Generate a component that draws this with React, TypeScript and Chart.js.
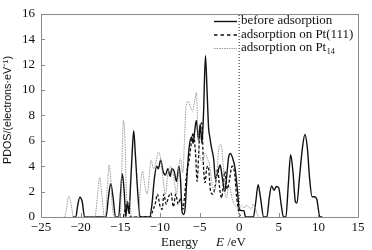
import React, { useEffect, useRef } from "react";
import { Chart, registerables } from "chart.js";

Chart.register(...registerables);

// ---- data ----
const beforeE = [-21.0, -20.6, -20.4, -20.1, -19.8, -19.5, -17.0, -16.8, -16.5, -16.2, -15.9, -15.6, -15.2, -14.95, -14.75, -14.5, -14.3, -14.1, -13.9, -13.7, -13.5, -13.3, -13.1, -12.8, -12.5, -11.3, -11.0, -10.7, -10.4, -10.2, -9.9, -9.6, -9.3, -9.0, -8.7, -8.5, -8.2, -7.9, -7.6, -7.4, -7.2, -7.0, -6.8, -6.6, -6.3, -6.0, -5.8, -5.6, -5.4, -5.1, -4.9, -4.7, -4.5, -4.25, -4.05, -3.85, -3.7, -3.5, -3.2, -3.0, -2.7, -2.4, -2.1, -1.8, -1.6, -1.3, -1.1, -0.8, -0.5, -0.2, 0.0, 0.3, 0.6, 0.8, 1.8, 2.1, 2.4, 2.7, 3.1, 3.5, 3.8, 4.1, 4.4, 4.7, 5.0, 5.3, 5.6, 5.9, 6.2, 6.5, 6.8, 7.1, 7.3, 7.6, 8.0, 8.3, 8.6, 8.9, 9.2, 9.5, 9.8, 10.2, 10.5];
const beforePDOS = [0, 0, 0.8, 1.55, 1.2, 0, 0, 0, 1.5, 2.65, 1.5, 0, 0, 2.0, 3.4, 2.0, 0, 1.2, 0.3, 2.5, 5.0, 6.8, 5.0, 2.0, 0, 0, 1.0, 3.0, 4.0, 3.8, 4.5, 3.6, 3.3, 3.8, 3.2, 3.8, 3.6, 2.8, 4.0, 3.0, 0.4, 0.2, 0.8, 3.0, 5.5, 6.3, 5.8, 6.8, 7.6, 6.0, 7.3, 5.8, 8.0, 12.7, 10.0, 7.0, 6.3, 5.5, 4.5, 3.0, 3.5, 4.1, 3.0, 2.0, 3.0, 4.8, 5.0, 4.6, 3.8, 2.0, 0.7, 0.5, 0.5, 0, 0, 1.2, 2.55, 1.5, 0, 0, 1.5, 2.45, 2.1, 2.4, 2.3, 1.0, 0, 0, 2.5, 4.9, 3.5, 1.2, 1.1, 3.0, 5.5, 6.5, 5.5, 3.0, 1.6, 1.6, 1.4, 0, 0];

const pt111E = [-14.6, -14.3, -14.1, -13.9, -13.7, -11.5, -11.2, -10.9, -10.6, -10.3, -10.0, -9.7, -9.5, -9.2, -8.9, -8.6, -8.3, -8.0, -7.7, -7.4, -7.1, -6.9, -6.6, -6.3, -6.0, -5.8, -5.5, -5.3, -5.1, -4.9, -4.7, -4.5, -4.3, -4.1, -3.9, -3.6, -3.3, -3.0, -2.7, -2.5, -2.2, -2.0, -1.8, -1.5, -1.2, -0.9, -0.6, -0.3, 0.0, 0.3];
const pt111PDOS = [0, 0.8, 1.2, 0.5, 0, 0, 0, 0.5, 1.0, 1.8, 0.9, 0.6, 1.8, 1.0, 1.6, 1.9, 0.8, 1.8, 1.0, 1.5, 0.6, 1.5, 3.5, 4.5, 6.0, 6.6, 5.0, 2.8, 5.0, 7.2, 7.4, 4.0, 2.7, 3.8, 4.0, 2.0, 1.8, 2.5, 3.8, 2.5, 1.5, 2.5, 3.6, 2.2, 3.0, 4.0, 3.6, 1.5, 0.3, 0];

const pt14E = [-22.0, -21.8, -21.5, -21.2, -20.9, -18.2, -17.9, -17.6, -17.3, -17.0, -16.8, -16.6, -16.4, -16.2, -16.0, -15.7, -15.0, -14.8, -14.6, -14.4, -14.2, -14.0, -13.8, -13.6, -12.7, -12.5, -12.2, -11.9, -11.6, -11.3, -11.1, -10.8, -10.6, -10.2, -9.9, -9.6, -9.3, -9.0, -8.7, -8.4, -8.1, -7.9, -7.6, -7.4, -7.1, -6.9, -6.7, -6.4, -6.1, -5.9, -5.6, -5.4, -5.2, -5.0, -4.6, -4.3, -4.0, -3.7, -3.4, -3.1, -2.8, -2.5, -2.3, -2.0, -1.8, -1.6, -1.4, -1.2, -0.9, -0.6, -0.3, 0.0, 0.3, 0.6, 0.9, 1.2, 1.5, 1.8, 2.1, 2.4];
const pt14PDOS = [0, 0.6, 1.65, 1.0, 0, 0, 1.5, 3.1, 1.6, 0, 0.5, 2.5, 4.1, 3.0, 0.8, 0, 0, 4.0, 7.6, 6.0, 1.5, 1.0, 1.3, 0, 0, 2.0, 3.6, 2.5, 1.8, 3.5, 4.5, 3.8, 4.0, 5.1, 4.6, 3.0, 1.8, 3.4, 4.0, 3.6, 2.5, 1.8, 4.0, 4.6, 3.5, 6.0, 8.7, 9.1, 8.6, 8.3, 9.2, 9.8, 7.0, 5.0, 4.4, 5.0, 4.6, 4.0, 2.5, 2.0, 3.5, 5.6, 5.7, 4.0, 2.0, 1.5, 2.2, 2.4, 1.5, 1.0, 0.8, 0.7, 0.9, 0.7, 0.9, 0.8, 0.6, 1.0, 0.6, 0];

const fermiE = [0, 0];
const fermiPDOS = [0, 16];

const seriesLabels = ["before adsorption", "adsorption on Pt(111)", "adsorption on Pt"];
const pt14Subscript = "14";
const xTickValues = [-25, -20, -15, -10, -5, 0, 5, 10, 15];
const yTickValues = [0, 2, 4, 6, 8, 10, 12, 14, 16];
const xTitleText = "Energy";
const xTitleVar = "E";
const xTitleUnit = " /eV";
const yTitleText = "PDOS/(electrons\u00B7eV\u207B\u00B9)";

const SERIF = '"Liberation Serif", "Times New Roman", serif';
const SANS = '"Liberation Sans", Arial, sans-serif';
const FRAME = "#8a8a8a";

const toPts = (xs: number[], ys: number[]) => xs.map((x, i) => ({ x, y: ys[i] }));

const decorPlugin = {
  id: "decor",
  afterDraw(chart: any) {
    const { ctx, chartArea, scales } = chart;
    const { left, right, top, bottom } = chartArea;
    const xs = scales.x;
    const ys = scales.y;
    ctx.save();
    // frame
    ctx.strokeStyle = FRAME;
    ctx.lineWidth = 1;
    ctx.setLineDash([]);
    ctx.strokeRect(Math.round(left) + 0.5, Math.round(top) + 0.5, Math.round(right - left), Math.round(bottom - top));
    // inner ticks
    ctx.beginPath();
    yTickValues.forEach((v) => {
      if (v === 0 || v === 16) return;
      const py = Math.round(ys.getPixelForValue(v)) + 0.5;
      ctx.moveTo(left, py);
      ctx.lineTo(left + 4, py);
    });
    xTickValues.forEach((v) => {
      if (v === -25 || v === 15) return;
      const px = Math.round(xs.getPixelForValue(v)) + 0.5;
      ctx.moveTo(px, bottom);
      ctx.lineTo(px, bottom - 4);
    });
    ctx.stroke();

    // legend
    const lx0 = 214, lx1 = 237, tx = 241;
    const rows = [21, 34.5, 48];
    ctx.font = `13px ${SERIF}`;
    ctx.fillStyle = "#111";
    ctx.textBaseline = "middle";
    ctx.textAlign = "left";
    const styles = [
      { color: "#111", dash: [] as number[], w: 1.4 },
      { color: "#111", dash: [3.5, 3], w: 1.3 },
      { color: "#9a9a9a", dash: [1.5, 1], w: 1 },
    ];
    rows.forEach((y, i) => {
      ctx.strokeStyle = styles[i].color;
      ctx.lineWidth = styles[i].w;
      ctx.setLineDash(styles[i].dash);
      ctx.beginPath();
      ctx.moveTo(lx0, y + 0.5);
      ctx.lineTo(lx1, y + 0.5);
      ctx.stroke();
      ctx.fillText(seriesLabels[i], tx, y);
    });
    const w3 = ctx.measureText(seriesLabels[2]).width;
    ctx.font = `8px ${SERIF}`;
    ctx.fillText(pt14Subscript, tx + w3 + 0.5, rows[2] + 4);

    // x title
    ctx.font = `13px ${SERIF}`;
    ctx.textBaseline = "alphabetic";
    ctx.fillText(xTitleText, 161, 246);
    ctx.font = `italic 13px ${SERIF}`;
    ctx.fillText(xTitleVar, 216, 246);
    const we = ctx.measureText(xTitleVar).width;
    ctx.font = `13px ${SERIF}`;
    ctx.fillText(xTitleUnit, 216 + we, 246);

    // y title (narrow sans)
    ctx.font = `11.5px ${SANS}`;
    const wy = ctx.measureText(yTitleText).width;
    const k = 108 / wy;
    ctx.translate(8, 110);
    ctx.rotate(-Math.PI / 2);
    ctx.scale(k, 1);
    ctx.textAlign = "center";
    ctx.textBaseline = "middle";
    ctx.fillText(yTitleText, 0, 0);
    ctx.restore();
  },
};

export default function App() {
  const ref = useRef<HTMLCanvasElement | null>(null);
  useEffect(() => {
    if (!ref.current) return;
    const common = {
      pointRadius: 0,
      fill: false,
      clip: 0,
      cubicInterpolationMode: "monotone" as const,
    };
    const chart = new Chart(ref.current, {
      type: "line",
      data: {
        datasets: [
          { ...common, label: seriesLabels[2], data: toPts(pt14E, pt14PDOS), borderColor: "#9a9a9a", borderWidth: 1, borderDash: [1.5, 1] },
          { ...common, label: seriesLabels[1], data: toPts(pt111E, pt111PDOS), borderColor: "#111", borderWidth: 1.3, borderDash: [3, 2] },
          { ...common, label: seriesLabels[0], data: toPts(beforeE, beforePDOS), borderColor: "#111", borderWidth: 1.4 },
          { pointRadius: 0, fill: false, clip: 0, label: "Fermi", data: toPts(fermiE, fermiPDOS), borderColor: "#222", borderWidth: 1, borderDash: [1, 2] },
        ],
      },
      options: {
        responsive: false,
        animation: false,
        layout: { padding: { top: 9, right: 14, left: 0, bottom: 0 } },
        plugins: { legend: { display: false }, tooltip: { enabled: false } },
        scales: {
          x: {
            type: "linear",
            min: -25,
            max: 15,
            afterBuildTicks: (s: any) => { s.ticks = xTickValues.map((v) => ({ value: v })); },
            afterFit: (s: any) => { s.height = 33; },
            grid: { display: false, drawTicks: false },
            border: { display: false },
            ticks: {
              padding: 3,
              color: "#111",
              font: { family: SERIF, size: 13 },
              callback: (v: any) => String(v).replace("-", "\u2212"),
            },
          },
          y: {
            type: "linear",
            min: 0,
            max: 16,
            afterBuildTicks: (s: any) => { s.ticks = yTickValues.map((v) => ({ value: v })); },
            afterFit: (s: any) => { s.width = 41; },
            grid: { display: false, drawTicks: false },
            border: { display: false },
            ticks: {
              padding: 6,
              color: "#111",
              font: { family: SERIF, size: 13 },
            },
          },
        },
      },
      plugins: [decorPlugin],
    });
    return () => chart.destroy();
  }, []);
  return (
    <div style={{ position: "fixed", left: 0, top: 0, width: 372, height: 250, background: "#fff" }}>
      <canvas ref={ref} width={372} height={250} style={{ display: "block" }} />
    </div>
  );
}
